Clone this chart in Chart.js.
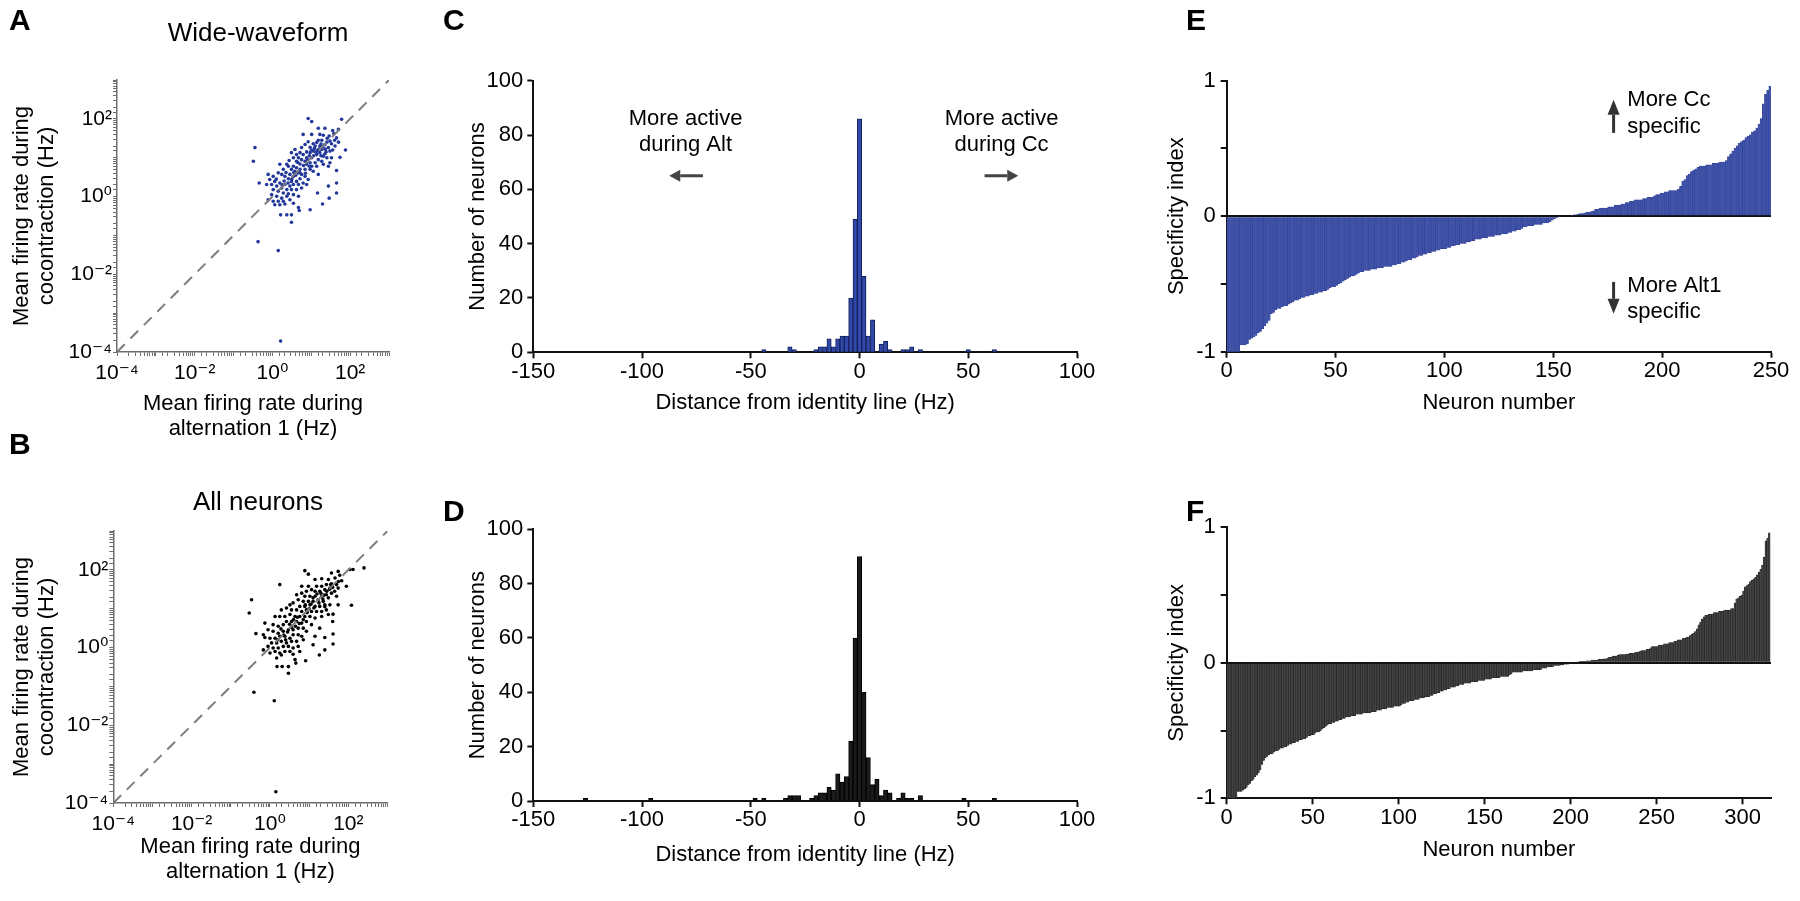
<!DOCTYPE html>
<html><head><meta charset="utf-8">
<script src="https://cdn.jsdelivr.net/npm/chart.js@4.4.1/dist/chart.umd.min.js"></script>
<style>
html,body{margin:0;padding:0;background:#fff;}
#fig{position:relative;width:1800px;height:901px;overflow:hidden;background:#fff;}
canvas{position:absolute;}
</style></head><body>
<div id="fig">
<canvas id="cA" width="420" height="450" style="left:0px;top:0px"></canvas>
<canvas id="cB" width="420" height="481" style="left:0px;top:420px"></canvas>
<canvas id="cC" width="680" height="450" style="left:420px;top:0px"></canvas>
<canvas id="cD" width="680" height="451" style="left:420px;top:450px"></canvas>
<canvas id="cE" width="660" height="450" style="left:1140px;top:0px"></canvas>
<canvas id="cF" width="660" height="451" style="left:1140px;top:450px"></canvas>
</div>
<script>
// ---------------- DATA ----------------
const logTickExps = [-4, -2, 0, 2];
const logTickLabels = ['10\u207B\u2074', '10\u207B\u00B2', '10\u2070', '10\u00B2'];
const identityLine = [1e-4, 1e3];

// [log10 rate during alternation 1, log10 rate during cocontraction] - wide-waveform neurons
const wideLog10Rates = [
[0.92,2.01],[1.01,1.93],[1.78,1.99],[1.18,1.76],[1.35,1.76],[1.55,1.70],[1.70,1.73],
[0.79,1.60],[1.01,1.60],[1.22,1.60],[1.31,1.58],[1.46,1.56],[1.58,1.62],[1.65,1.51],
[1.41,1.50],[1.48,1.43],[1.27,1.45],[1.14,1.39],[1.05,1.36],[0.92,1.41],[0.84,1.34],
[0.97,1.27],[1.10,1.30],[1.22,1.30],[1.35,1.34],[1.52,1.36],[1.61,1.30],[1.44,1.26],
[1.27,1.21],[1.16,1.19],[1.05,1.17],[0.97,1.13],[0.88,1.15],[0.75,1.26],[0.71,1.13],
[0.58,1.21],[0.49,1.13],[0.62,1.08],[0.79,1.08],[0.88,1.00],[1.01,1.00],[1.14,1.08],
[1.22,1.13],[1.38,1.15],[1.48,1.17],[1.31,1.04],[1.40,1.00],[1.52,1.00],[1.18,0.95],
[1.27,0.91],[1.10,0.87],[0.97,0.87],[0.84,0.91],[0.75,0.95],[0.67,1.00],[0.54,1.00],
[0.43,0.93],[0.62,0.91],[0.71,0.84],[0.88,0.83],[1.01,0.78],[1.14,0.78],[1.31,0.83],
[1.44,0.78],[1.48,0.87],[1.65,0.67],[1.18,0.57],[1.05,0.65],[0.97,0.70],[0.84,0.70],
[0.71,0.70],[0.62,0.74],[0.54,0.78],[0.41,0.78],[0.37,0.83],[0.28,0.70],[0.19,0.83],
[0.49,0.70],[0.58,0.65],[0.45,0.57],[0.54,0.52],[0.67,0.61],[0.75,0.57],[0.84,0.52],
[0.92,0.44],[0.71,0.46],[0.62,0.39],[0.49,0.39],[0.41,0.46],[0.32,0.52],[0.24,0.57],
[0.15,0.61],[0.02,0.52],[-0.11,0.57],[-0.07,0.44],[0.06,0.39],[0.19,0.35],[0.32,0.31],
[0.45,0.27],[0.54,0.31],[0.67,0.31],[0.79,0.35],[0.88,0.31],[0.75,0.22],[0.62,0.18],
[0.49,0.18],[0.37,0.18],[0.24,0.22],[0.11,0.27],[-0.02,0.31],[-0.15,0.31],[0.02,0.18],
[0.15,0.14],[0.28,0.09],[0.41,0.07],[0.54,0.05],[0.67,0.01],[0.37,0.01],[0.24,-0.04],
[0.11,0.01],[-0.02,0.05],[-0.11,-0.08],[0.02,-0.12],[0.15,-0.12],[0.28,-0.12],[0.45,-0.08],
[0.54,-0.17],[0.06,-0.21],[0.19,-0.21],[0.32,-0.19],[0.67,-0.28],[0.69,-0.36],[0.97,-0.34],
[1.29,-0.19],[1.46,-0.04],[1.65,0.09],[1.16,0.09],[1.44,0.27],[1.65,0.35],[-0.45,1.26],
[-0.49,0.91],[-0.34,0.35],[0.21,-0.47],[0.37,-0.47],[0.49,-0.47],[0.49,-0.66],[-0.37,-1.16],
[0.15,-1.39],[1.88,1.20],[1.74,1.01],[0.21,-3.72],
[1.00,1.20],[1.08,1.24],[1.12,1.14],[1.20,1.22],[1.25,1.35],[1.30,1.28],[1.36,1.22],
[1.40,1.40],[1.18,1.45],[1.06,1.05],[0.95,1.05],[0.90,0.95],[1.25,1.05],[1.35,1.10],
[0.80,0.80],[0.70,0.62],[0.60,0.55],[0.50,0.45],[0.40,0.35],[0.30,0.40],[0.85,0.60],
[0.95,0.78],[1.60,1.45],[1.55,1.20],[0.65,0.88],[0.55,0.62],[1.70,1.40],[0.35,0.62],
[0.25,0.30],[0.10,0.45]
];

// [log10 alternation rate, log10 cocontraction rate] - all neurons
const allLog10Rates = [
[2.40,2.05],[2.04,2.01],[2.12,2.01],[0.89,1.98],[0.98,1.89],[1.74,1.96],[1.57,1.92],
[1.78,1.86],[1.32,1.77],[1.15,1.75],[1.49,1.75],[1.66,1.79],[1.83,1.72],[0.25,1.62],
[0.81,1.58],[0.98,1.58],[1.19,1.58],[1.32,1.58],[1.44,1.62],[1.57,1.64],[1.70,1.62],
[1.95,1.58],[1.74,1.53],[1.53,1.53],[1.40,1.49],[1.27,1.45],[1.15,1.45],[1.06,1.49],
[0.93,1.45],[0.81,1.40],[0.68,1.36],[0.89,1.32],[1.02,1.32],[1.15,1.32],[1.32,1.32],
[1.44,1.36],[1.57,1.40],[1.70,1.32],[1.49,1.28],[1.36,1.19],[1.23,1.23],[1.10,1.19],
[0.98,1.19],[0.85,1.19],[0.72,1.23],[0.59,1.15],[0.51,1.10],[0.76,1.06],[0.89,1.06],
[1.02,1.10],[1.15,1.06],[1.27,1.06],[1.40,1.10],[1.53,1.10],[1.74,1.10],[2.08,1.09],
[-0.47,1.23],[-0.53,0.89],[1.44,0.97],[1.32,0.93],[1.19,0.93],[1.06,0.93],[0.93,0.97],
[0.81,0.93],[0.68,0.97],[0.55,0.97],[0.42,1.02],[0.29,0.97],[0.13,0.80],[0.25,0.80],
[0.38,0.80],[0.51,0.85],[0.64,0.80],[0.76,0.80],[0.89,0.80],[1.02,0.80],[1.15,0.76],
[1.32,0.80],[1.49,0.85],[1.61,0.86],[0.42,0.67],[0.55,0.67],[0.68,0.67],[0.81,0.63],
[0.93,0.67],[1.06,0.59],[0.34,0.59],[0.21,0.55],[0.08,0.59],[-0.13,0.63],[-0.05,0.46],
[0.08,0.42],[0.21,0.37],[0.34,0.42],[0.47,0.46],[0.59,0.46],[0.72,0.50],[0.85,0.50],
[0.93,0.42],[1.27,0.50],[1.60,0.67],[-0.17,0.33],[-0.36,0.36],[-0.13,0.26],[0.00,0.24],
[0.13,0.24],[0.25,0.29],[0.38,0.29],[0.51,0.24],[0.59,0.33],[0.72,0.33],[0.81,0.29],
[1.15,0.29],[1.40,0.26],[1.61,0.35],[0.04,0.12],[0.17,0.12],[0.29,0.16],[0.42,0.12],
[0.55,0.16],[0.68,0.16],[0.85,0.20],[-0.05,0.03],[0.08,-0.01],[0.21,-0.01],[0.34,0.03],
[0.47,0.03],[0.59,-0.01],[0.72,0.03],[-0.17,-0.06],[0.00,-0.14],[0.13,-0.10],[0.25,-0.14],
[0.38,-0.10],[0.51,-0.10],[0.59,-0.17],[0.76,-0.10],[1.10,0.07],[1.40,-0.06],[1.61,0.09],
[0.17,-0.27],[0.29,-0.19],[0.64,-0.31],[0.66,-0.40],[0.91,-0.34],[1.26,-0.19],[0.18,-0.49],
[0.31,-0.49],[0.47,-0.49],[0.47,-0.66],[-0.41,-1.15],[0.11,-1.37],[0.15,-3.71],
[1.10,1.28],[1.20,1.38],[1.30,1.40],[1.38,1.35],[1.45,1.45],[1.52,1.50],[1.60,1.55],
[1.65,1.45],[1.00,1.00],[0.95,0.90],[1.05,1.12],[1.12,1.02],[0.85,0.72],[0.75,0.62],
[0.65,0.55],[0.55,0.52],[0.45,0.40],[0.35,0.32],[0.28,0.48],[0.70,0.78],[1.25,1.15],
[1.35,1.25],[1.40,1.05],[0.60,0.72],[0.50,0.60],[1.55,1.62],[1.75,1.70],[0.90,1.10],
[0.40,0.20],[0.20,0.20]
];

// Histograms: bin centres (Hz, 2-Hz bins) and neuron counts
const wideBinCenters = [-44,-32,-30,-20,-18,-16,-14,-12,-10,-8,-6,-4,-2,0,2,4,6,10,12,14,20,22,24,28,50,62];
const wideBinCounts  = [1,2,1,1,2,2,5,2,5,6,6,20,49,86,28,6,12,3,4,1,1,1,2,1,1,1];
const allBinCenters = [-126,-96,-48,-44,-34,-32,-30,-28,-22,-20,-18,-16,-14,-12,-10,-8,-6,-4,-2,0,2,4,6,8,10,12,14,18,20,22,24,28,48,62];
const allBinCounts  = [1,1,1,1,1,2,2,2,1,2,3,3,5,4,10,7,9,22,60,90,40,16,6,8,2,4,3,1,3,1,1,2,1,1];

// Sorted specificity index per neuron
const specWide = [
-1,-1,-1,-1,-1,-1,-0.95,-0.95,-0.95,-0.94,
-0.91,-0.90,-0.89,-0.88,-0.86,-0.85,-0.83,-0.81,-0.79,-0.77,
-0.72,-0.71,-0.69,-0.68,-0.68,-0.67,-0.66,-0.66,-0.65,-0.64,
-0.63,-0.62,-0.62,-0.61,-0.60,-0.60,-0.59,-0.59,-0.58,-0.58,
-0.57,-0.57,-0.56,-0.56,-0.55,-0.55,-0.54,-0.53,-0.52,-0.52,
-0.51,-0.50,-0.49,-0.48,-0.47,-0.46,-0.45,-0.44,-0.44,-0.43,
-0.42,-0.41,-0.41,-0.40,-0.40,-0.40,-0.39,-0.39,-0.39,-0.38,
-0.38,-0.38,-0.37,-0.37,-0.37,-0.37,-0.36,-0.36,-0.35,-0.35,
-0.34,-0.34,-0.33,-0.32,-0.32,-0.31,-0.31,-0.30,-0.29,-0.29,
-0.28,-0.28,-0.27,-0.27,-0.26,-0.26,-0.25,-0.25,-0.24,-0.24,
-0.24,-0.23,-0.23,-0.22,-0.22,-0.21,-0.21,-0.20,-0.20,-0.20,
-0.19,-0.19,-0.18,-0.18,-0.17,-0.17,-0.17,-0.16,-0.16,-0.16,
-0.15,-0.15,-0.15,-0.14,-0.14,-0.14,-0.13,-0.13,-0.13,-0.12,
-0.12,-0.11,-0.11,-0.10,-0.10,-0.09,-0.08,-0.08,-0.07,-0.07,
-0.07,-0.06,-0.06,-0.06,-0.06,-0.05,-0.05,-0.05,-0.04,-0.03,
-0.02,-0.01,-0.005,0,0,0,0,0,0.005,0.01,
0.01,0.015,0.02,0.02,0.025,0.03,0.03,0.035,0.04,0.05,
0.05,0.06,0.06,0.06,0.06,0.07,0.07,0.07,0.08,0.08,
0.08,0.09,0.09,0.10,0.10,0.11,0.11,0.12,0.12,0.12,
0.12,0.13,0.13,0.14,0.14,0.14,0.15,0.16,0.16,0.17,
0.17,0.18,0.18,0.19,0.19,0.19,0.19,0.20,0.22,0.26,
0.27,0.30,0.31,0.33,0.34,0.35,0.36,0.37,0.37,0.37,
0.38,0.38,0.38,0.39,0.39,0.39,0.40,0.40,0.40,0.41,
0.44,0.46,0.48,0.50,0.52,0.54,0.55,0.56,0.58,0.59,
0.60,0.62,0.63,0.65,0.68,0.72,0.83,0.90,0.93,0.96
];
const specAll = [
-1,-1,-1,-1,-1,-1,-0.95,-0.95,-0.95,-0.94,
-0.93,-0.92,-0.90,-0.89,-0.87,-0.86,-0.84,-0.83,-0.81,-0.79,
-0.75,-0.72,-0.70,-0.69,-0.68,-0.67,-0.67,-0.66,-0.65,-0.65,
-0.64,-0.63,-0.63,-0.62,-0.62,-0.61,-0.60,-0.60,-0.59,-0.59,
-0.58,-0.58,-0.57,-0.57,-0.56,-0.56,-0.55,-0.54,-0.54,-0.53,
-0.53,-0.52,-0.51,-0.51,-0.50,-0.49,-0.48,-0.47,-0.46,-0.45,
-0.45,-0.44,-0.44,-0.43,-0.43,-0.42,-0.42,-0.41,-0.41,-0.40,
-0.40,-0.40,-0.39,-0.39,-0.39,-0.38,-0.38,-0.38,-0.38,-0.37,
-0.37,-0.37,-0.37,-0.37,-0.36,-0.36,-0.36,-0.35,-0.35,-0.35,
-0.34,-0.34,-0.34,-0.33,-0.33,-0.33,-0.33,-0.32,-0.32,-0.32,
-0.32,-0.31,-0.30,-0.30,-0.29,-0.29,-0.28,-0.28,-0.28,-0.27,
-0.27,-0.27,-0.26,-0.26,-0.26,-0.25,-0.25,-0.25,-0.24,-0.24,
-0.23,-0.23,-0.22,-0.22,-0.21,-0.21,-0.20,-0.20,-0.19,-0.19,
-0.18,-0.18,-0.18,-0.17,-0.17,-0.16,-0.16,-0.16,-0.15,-0.15,
-0.15,-0.15,-0.14,-0.14,-0.14,-0.14,-0.13,-0.13,-0.13,-0.13,
-0.12,-0.12,-0.12,-0.12,-0.11,-0.11,-0.11,-0.11,-0.11,-0.10,
-0.10,-0.10,-0.10,-0.10,-0.09,-0.08,-0.07,-0.07,-0.07,-0.07,
-0.07,-0.07,-0.06,-0.06,-0.06,-0.06,-0.06,-0.06,-0.05,-0.05,
-0.05,-0.05,-0.05,-0.04,-0.04,-0.04,-0.03,-0.03,-0.03,-0.03,
-0.02,-0.02,-0.02,-0.02,-0.015,-0.015,-0.01,-0.01,-0.01,-0.005,
-0.005,0,0,0.005,0.005,0.01,0.01,0.01,0.01,0.015,
0.015,0.015,0.02,0.02,0.02,0.02,0.025,0.025,0.025,0.03,
0.03,0.035,0.04,0.04,0.05,0.05,0.05,0.055,0.06,0.06,
0.06,0.06,0.065,0.065,0.07,0.07,0.07,0.075,0.08,0.08,
0.085,0.09,0.09,0.09,0.10,0.10,0.11,0.12,0.12,0.12,
0.12,0.13,0.13,0.13,0.14,0.14,0.14,0.15,0.15,0.15,
0.16,0.16,0.17,0.17,0.17,0.18,0.18,0.19,0.19,0.20,
0.21,0.22,0.23,0.25,0.28,0.30,0.32,0.34,0.35,0.35,
0.36,0.36,0.36,0.37,0.37,0.37,0.38,0.38,0.38,0.39,
0.39,0.39,0.39,0.40,0.40,0.44,0.47,0.48,0.49,0.50,
0.53,0.56,0.57,0.58,0.60,0.61,0.62,0.63,0.65,0.67,
0.69,0.72,0.78,0.90,0.92,0.96
];
const specTickValues = [-1, -0.5, 0, 0.5, 1];
const specTickLabels = ['-1', '', '0', '', '1'];

// ---------------- STYLE ----------------
const FONT = "'Liberation Sans', Arial, Helvetica, 'DejaVu Sans', sans-serif";
Chart.defaults.font.family = FONT;
Chart.defaults.color = '#000';
Chart.defaults.animation = false;
Chart.defaults.events = [];
Chart.defaults.plugins.legend.display = false;
Chart.defaults.plugins.tooltip.enabled = false;

const decor = {
  id: 'decor',
  afterDraw(chart, args, o) {
    const ctx = chart.ctx;
    ctx.save();
    for (const a of (o.arrows || [])) {
      const X = chart.scales.x, Y = chart.scales.y;
      const x1 = X.getPixelForValue(a.x1), y1 = Y.getPixelForValue(a.y1);
      const x2 = X.getPixelForValue(a.x2), y2 = Y.getPixelForValue(a.y2);
      const ang = Math.atan2(y2 - y1, x2 - x1);
      const hl = a.head || 12, hw = a.headW || 6;
      const bx = x2 - hl * Math.cos(ang), by = y2 - hl * Math.sin(ang);
      ctx.strokeStyle = a.color || '#444';
      ctx.fillStyle = a.color || '#444';
      ctx.lineWidth = a.width || 3;
      ctx.beginPath(); ctx.moveTo(x1, y1); ctx.lineTo(bx, by); ctx.stroke();
      ctx.beginPath(); ctx.moveTo(x2, y2);
      ctx.lineTo(bx + hw * Math.sin(ang), by - hw * Math.cos(ang));
      ctx.lineTo(bx - hw * Math.sin(ang), by + hw * Math.cos(ang));
      ctx.closePath(); ctx.fill();
    }
    for (const t of (o.texts || [])) {
      let x = t.px, y = t.py;
      if (t.x !== undefined) x = chart.scales.x.getPixelForValue(t.x);
      if (t.y !== undefined) y = chart.scales.y.getPixelForValue(t.y);
      ctx.font = (t.weight || 'normal') + ' ' + t.size + 'px ' + FONT;
      ctx.fillStyle = t.color || '#000';
      ctx.textAlign = t.align || 'center';
      ctx.textBaseline = 'middle';
      ctx.fillText(t.text, x, y);
    }
    ctx.restore();
  }
};
Chart.register(decor);

function logLabel(v) {
  const e = Math.log10(v), r = Math.round(e);
  if (Math.abs(e - r) > 1e-6) return '';
  const i = logTickExps.indexOf(r);
  return i >= 0 ? logTickLabels[i] : '';
}

function scatterChart(id, pairs, color, g, letter, subtitle) {
  const axisCol = '#6e6e6e';
  return new Chart(document.getElementById(id), {
    type: 'scatter',
    data: { datasets: [
      { data: identityLine.map(v => ({x: v, y: v})), showLine: true, borderColor: '#7d7d7d',
        borderWidth: 2, borderDash: [11, 8], pointRadius: 0, order: 0 },
      { data: pairs.map(p => ({x: Math.pow(10, p[0]), y: Math.pow(10, p[1])})),
        backgroundColor: color, borderWidth: 0, pointRadius: 1.8, order: 1 }
    ]},
    options: {
      responsive: false,
      layout: { padding: g.pad },
      scales: {
        x: { type: 'logarithmic', min: 1e-4, max: 1e3,
          afterFit: s => { s.height = g.xH; },
          border: { display: true, color: axisCol, width: 1.5 },
          grid: { drawOnChartArea: false, drawTicks: true, tickLength: 4, tickColor: axisCol, tickWidth: 1 },
          ticks: { autoSkip: false, maxRotation: 0, padding: 5, font: { size: 21 }, color: '#000', callback: logLabel },
          title: { display: true, text: ['Mean firing rate during', 'alternation 1 (Hz)'], font: { size: 22, lineHeight: 1.15 }, padding: { top: 0, bottom: 0 } } },
        y: { type: 'logarithmic', min: 1e-4, max: 1e3,
          afterFit: s => { s.width = g.yW; },
          border: { display: true, color: axisCol, width: 1.5 },
          grid: { drawOnChartArea: false, drawTicks: true, tickLength: 4, tickColor: axisCol, tickWidth: 1 },
          ticks: { autoSkip: false, padding: 1, font: { size: 21 }, color: '#000', callback: logLabel },
          title: { display: true, text: ['Mean firing rate during', 'cocontraction (Hz)'], font: { size: 22, lineHeight: 1.15 }, padding: { top: 9, bottom: 0 } } }
      },
      plugins: { decor: { texts: [
        { text: letter, px: 9, py: g.letterY, size: 30, weight: 'bold', align: 'left' },
        { text: subtitle, px: 258, py: g.subY, size: 26 }
      ]}}
    }
  });
}

function histChart(id, centers, counts, fill, edge, g, letter, extra) {
  return new Chart(document.getElementById(id), {
    type: 'bar',
    data: { datasets: [{ data: centers.map((c, i) => ({x: c, y: counts[i]})),
      backgroundColor: fill, borderColor: edge, borderWidth: 1, barPercentage: 1, categoryPercentage: 1 }] },
    options: {
      responsive: false,
      layout: { padding: g.pad },
      scales: {
        x: { type: 'linear', min: -150, max: 100, offset: false,
          afterFit: s => { s.height = g.xH; },
          border: { display: true, color: '#111', width: 2 },
          grid: { offset: false, drawOnChartArea: false, drawTicks: true, tickLength: 6, tickColor: '#111', tickWidth: 2 },
          ticks: { stepSize: 50, autoSkip: false, maxRotation: 0, padding: 0, font: { size: 22 }, color: '#000' },
          title: { display: true, text: 'Distance from identity line (Hz)', font: { size: 22, lineHeight: 1.15 }, padding: { top: 0, bottom: 0 } } },
        y: { min: 0, max: 100,
          afterFit: s => { s.width = g.yW; },
          border: { display: true, color: '#111', width: 2 },
          grid: { drawOnChartArea: false, drawTicks: true, tickLength: 6, tickColor: '#111', tickWidth: 2 },
          ticks: { stepSize: 20, padding: 4, font: { size: 22 }, color: '#000' },
          title: { display: true, text: 'Number of neurons', font: { size: 22, lineHeight: 1.15 }, padding: { top: 45, bottom: 0 } } }
      },
      plugins: { decor: {
        texts: [{ text: letter, px: 23, py: g.letterY, size: 30, weight: 'bold', align: 'left' }].concat(extra.texts || []),
        arrows: extra.arrows || [] } }
    }
  });
}

function specChart(id, vals, xMax, fill, edge, g, letter, extra) {
  return new Chart(document.getElementById(id), {
    type: 'bar',
    data: { datasets: [{ data: vals.map((v, i) => ({x: i + 0.5, y: v})),
      backgroundColor: fill, borderColor: edge, borderWidth: 0.5, barPercentage: 1, categoryPercentage: 1 }] },
    options: {
      responsive: false,
      layout: { padding: g.pad },
      scales: {
        x: { type: 'linear', min: 0, max: xMax, offset: false,
          afterFit: s => { s.height = g.xH; },
          afterBuildTicks: s => { s.ticks = s.ticks.filter(t => t.value % 50 === 0); },
          border: { display: true, color: '#111', width: 2 },
          grid: { offset: false, drawOnChartArea: false, drawTicks: true, tickLength: 6, tickColor: '#111', tickWidth: 2 },
          ticks: { stepSize: 50, includeBounds: false, autoSkip: false, maxRotation: 0, padding: 0, font: { size: 22 }, color: '#000' },
          title: { display: true, text: 'Neuron number', font: { size: 22, lineHeight: 1.15 }, padding: { top: 0, bottom: 0 } } },
        y: { min: -1, max: 1,
          afterFit: s => { s.width = g.yW; },
          border: { display: true, color: '#111', width: 2 },
          grid: { drawOnChartArea: true, drawTicks: true, tickLength: 6, tickColor: '#111', tickWidth: 2,
            color: c => (c.tick && c.tick.value === 0) ? '#111' : 'rgba(0,0,0,0)', lineWidth: 2 },
          ticks: { stepSize: 0.5, padding: 5, font: { size: 22 }, color: '#000',
            callback: v => { const i = specTickValues.indexOf(v); return i >= 0 ? specTickLabels[i] : ''; } },
          title: { display: true, text: 'Specificity index', font: { size: 22, lineHeight: 1.15 }, padding: { top: 24, bottom: 0 } } }
      },
      plugins: { decor: {
        texts: [{ text: letter, px: 46, py: g.letterY, size: 30, weight: 'bold', align: 'left' }].concat(extra.texts || []),
        arrows: extra.arrows || [] } }
    }
  });
}

// ---------------- CHARTS ----------------
scatterChart('cA', wideLog10Rates, '#22389a',
  { pad: { left: 0, top: 80, right: 31, bottom: 8 }, yW: 117, xH: 90, letterY: 22, subY: 34 },
  'A', 'Wide-waveform');
scatterChart('cB', allLog10Rates, '#000000',
  { pad: { left: 0, top: 111, right: 32.5, bottom: 16 }, yW: 113.3, xH: 82, letterY: 26, subY: 83 },
  'B', 'All neurons');

histChart('cC', wideBinCenters, wideBinCounts, '#3149a8', '#14205c',
  { pad: { left: 0, top: 80.7, right: 23, bottom: 34.35 }, yW: 113.3, xH: 63.35, letterY: 22 }, 'C',
  { texts: [
      { text: 'More active', x: -80, y: 86, size: 22 },
      { text: 'during Alt', x: -80, y: 76.5, size: 22 },
      { text: 'More active', x: 65.3, y: 86, size: 22 },
      { text: 'during Cc', x: 65.3, y: 76.5, size: 22 } ],
    arrows: [
      { x1: -72, y1: 65, x2: -87.5, y2: 65, color: '#444', width: 3, head: 11, headW: 6 },
      { x1: 57.5, y1: 65, x2: 73, y2: 65, color: '#444', width: 3, head: 11, headW: 6 } ] });
histChart('cD', allBinCenters, allBinCounts, '#1a1a1a', '#000000',
  { pad: { left: 0, top: 79.3, right: 23, bottom: 33.35 }, yW: 113.3, xH: 66.65, letterY: 63 }, 'D', {});

specChart('cE', specWide, 250, '#4153a8', '#2f4096',
  { pad: { left: 0, top: 80.7, right: 29, bottom: 34.35 }, yW: 86.7, xH: 63.95, letterY: 22 }, 'E',
  { texts: [
      { text: 'More Cc', x: 184, y: 0.856, size: 22, align: 'left' },
      { text: 'specific', x: 184, y: 0.66, size: 22, align: 'left' },
      { text: 'More Alt1', x: 184, y: -0.517, size: 22, align: 'left' },
      { text: 'specific', x: 184, y: -0.71, size: 22, align: 'left' } ],
    arrows: [
      { x1: 177.7, y1: 0.615, x2: 177.7, y2: 0.86, color: '#333', width: 3, head: 15, headW: 6 },
      { x1: 177.7, y1: -0.485, x2: 177.7, y2: -0.72, color: '#333', width: 3, head: 15, headW: 6 } ] });
specChart('cF', specAll, 316.5, '#454545', '#1c1c1c',
  { pad: { left: 0, top: 77.3, right: 29, bottom: 38.35 }, yW: 86.7, xH: 64.35, letterY: 63 }, 'F', {});
</script>
</body></html>
